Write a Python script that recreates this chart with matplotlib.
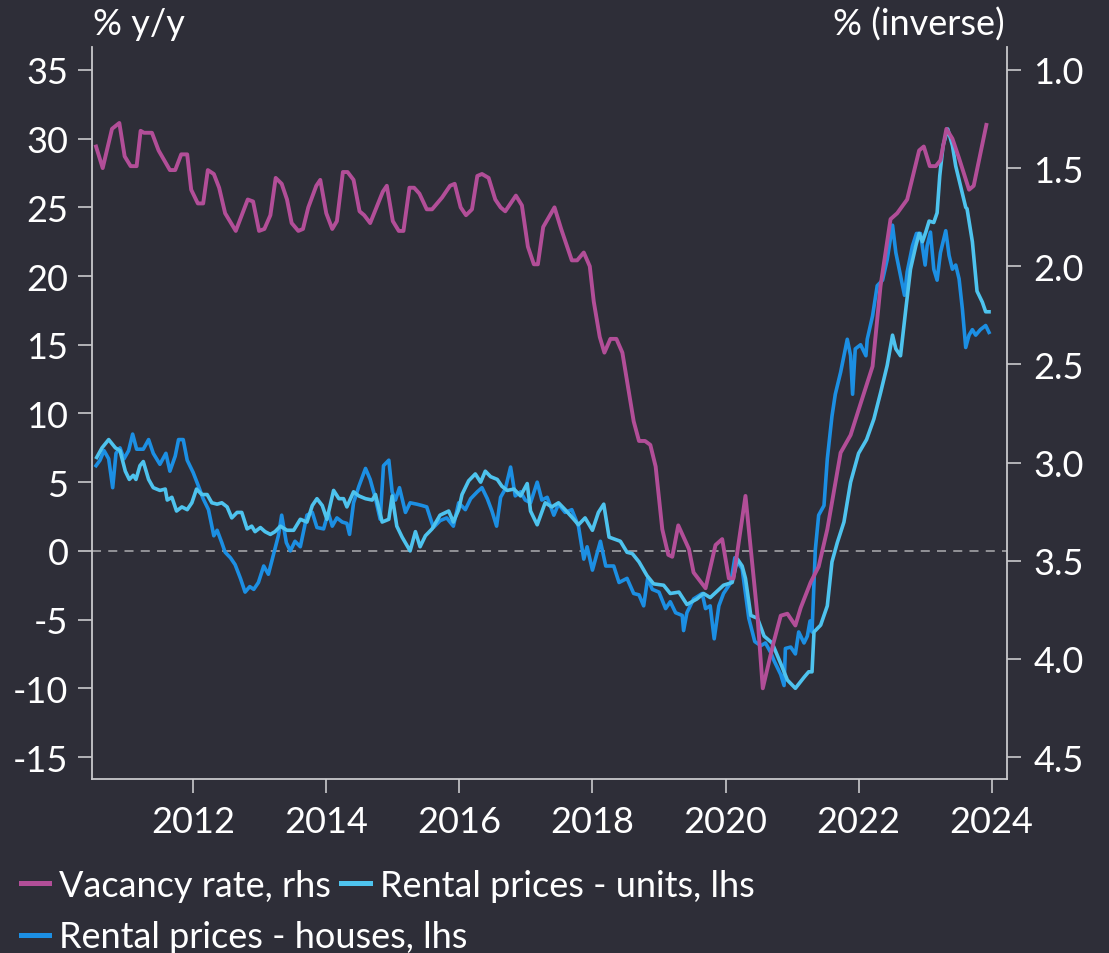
import matplotlib
matplotlib.use('Agg')
import matplotlib.pyplot as plt
from matplotlib.lines import Line2D

# ==============================
# data (decimal years)
# ==============================
vac_dates = [2010.54, 2010.64, 2010.78, 2010.89, 2010.97, 2011.06, 2011.15, 2011.21, 2011.26, 2011.38,
             2011.48, 2011.65, 2011.73, 2011.82, 2011.91, 2011.97, 2012.07, 2012.15, 2012.22, 2012.31,
             2012.39, 2012.48, 2012.64, 2012.82, 2012.90, 2012.99, 2013.07, 2013.16, 2013.24, 2013.33,
             2013.41, 2013.48, 2013.58, 2013.65, 2013.73, 2013.85, 2013.91, 2014.00, 2014.09, 2014.16,
             2014.25, 2014.32, 2014.41, 2014.50, 2014.57, 2014.66, 2014.85, 2014.91, 2015.00, 2015.09,
             2015.16, 2015.25, 2015.32, 2015.40, 2015.51, 2015.59, 2015.74, 2015.86, 2015.93, 2016.02,
             2016.10, 2016.19, 2016.27, 2016.34, 2016.44, 2016.54, 2016.62, 2016.69, 2016.77, 2016.85,
             2016.94, 2017.03, 2017.12, 2017.18, 2017.26, 2017.43, 2017.53, 2017.69, 2017.77, 2017.87,
             2017.96, 2018.02, 2018.11, 2018.18, 2018.27, 2018.36, 2018.45, 2018.62, 2018.70, 2018.79,
             2018.87, 2018.95, 2019.05, 2019.14, 2019.20, 2019.29, 2019.45, 2019.52, 2019.70, 2019.85,
             2019.95, 2020.05, 2020.12, 2020.30, 2020.48, 2020.56, 2020.72, 2020.83, 2020.93, 2021.05,
             2021.13, 2021.28, 2021.40, 2021.53, 2021.73, 2021.88, 2022.03, 2022.21, 2022.33, 2022.48,
             2022.58, 2022.73, 2022.91, 2022.98, 2023.07, 2023.16, 2023.23, 2023.32, 2023.41, 2023.51,
             2023.66, 2023.73, 2023.92]
vac_rate = [1.39, 1.50, 1.30, 1.27, 1.44, 1.49, 1.49, 1.31, 1.32, 1.32,
            1.41, 1.51, 1.51, 1.43, 1.43, 1.61, 1.68, 1.68, 1.51, 1.53,
            1.60, 1.73, 1.82, 1.66, 1.67, 1.82, 1.81, 1.74, 1.55, 1.58,
            1.66, 1.78, 1.82, 1.81, 1.70, 1.59, 1.56, 1.73, 1.81, 1.77,
            1.52, 1.52, 1.56, 1.72, 1.74, 1.78, 1.62, 1.59, 1.77, 1.82,
            1.82, 1.60, 1.60, 1.63, 1.71, 1.71, 1.65, 1.59, 1.58, 1.70,
            1.74, 1.71, 1.54, 1.53, 1.55, 1.66, 1.70, 1.72, 1.68, 1.64,
            1.69, 1.90, 1.99, 1.99, 1.80, 1.70, 1.81, 1.97, 1.97, 1.93,
            2.00, 2.18, 2.36, 2.44, 2.37, 2.37, 2.44, 2.79, 2.89, 2.89,
            2.91, 3.02, 3.34, 3.47, 3.48, 3.32, 3.44, 3.56, 3.64, 3.42,
            3.39, 3.59, 3.59, 3.17, 3.78, 4.15, 3.92, 3.78, 3.77, 3.83,
            3.74, 3.61, 3.53, 3.34, 2.95, 2.86, 2.70, 2.51, 2.10, 1.76,
            1.73, 1.66, 1.41, 1.39, 1.49, 1.49, 1.46, 1.30, 1.35, 1.45,
            1.61, 1.59, 1.28]

units_dates = [2010.55, 2010.63, 2010.73, 2010.83, 2010.90, 2010.98, 2011.04, 2011.10, 2011.14, 2011.20,
               2011.25, 2011.33, 2011.40, 2011.50, 2011.58, 2011.61, 2011.68, 2011.75, 2011.83, 2011.91,
               2011.98, 2012.05, 2012.13, 2012.21, 2012.28, 2012.36, 2012.43, 2012.51, 2012.58, 2012.66,
               2012.73, 2012.81, 2012.88, 2012.93, 2013.01, 2013.08, 2013.16, 2013.23, 2013.31, 2013.41,
               2013.51, 2013.61, 2013.71, 2013.79, 2013.86, 2013.94, 2014.01, 2014.11, 2014.19, 2014.26,
               2014.31, 2014.41, 2014.49, 2014.59, 2014.69, 2014.74, 2014.84, 2014.94, 2014.99, 2015.06,
               2015.14, 2015.26, 2015.34, 2015.41, 2015.49, 2015.59, 2015.71, 2015.84, 2015.91, 2015.99,
               2016.04, 2016.14, 2016.24, 2016.32, 2016.39, 2016.47, 2016.57, 2016.64, 2016.72, 2016.82,
               2016.92, 2017.02, 2017.07, 2017.17, 2017.29, 2017.39, 2017.49, 2017.59, 2017.72, 2017.79,
               2017.89, 2018.00, 2018.09, 2018.17, 2018.25, 2018.42, 2018.52, 2018.60, 2018.70, 2018.82,
               2018.92, 2019.07, 2019.17, 2019.30, 2019.42, 2019.57, 2019.67, 2019.77, 2019.88, 2019.97,
               2020.10, 2020.18, 2020.25, 2020.30, 2020.38, 2020.48, 2020.58, 2020.70, 2020.83, 2020.93,
               2021.05, 2021.18, 2021.25, 2021.30, 2021.33, 2021.43, 2021.53, 2021.60, 2021.68, 2021.78,
               2021.88, 2022.00, 2022.12, 2022.23, 2022.33, 2022.43, 2022.51, 2022.56, 2022.63, 2022.71,
               2022.78, 2022.86, 2022.91, 2022.96, 2023.01, 2023.06, 2023.13, 2023.18, 2023.22, 2023.27,
               2023.34, 2023.41, 2023.46, 2023.53, 2023.61, 2023.63, 2023.71, 2023.78, 2023.86, 2023.91,
               2023.96]
units_yoy = [6.8, 7.5, 8.1, 7.5, 7.3, 5.8, 5.2, 5.5, 5.2, 6.2,
             6.5, 5.2, 4.6, 4.4, 4.5, 3.7, 3.9, 2.9, 3.2, 3.0,
             3.5, 4.5, 4.1, 4.1, 3.5, 3.4, 3.5, 3.2, 2.4, 2.8,
             2.8, 1.6, 1.8, 1.4, 1.7, 1.4, 1.2, 1.4, 1.8, 1.5,
             1.5, 2.3, 2.1, 3.3, 3.8, 3.3, 2.3, 4.4, 3.8, 3.8,
             3.2, 4.3, 4.0, 3.8, 3.7, 4.1, 2.1, 2.3, 4.0, 1.8,
             1.0, 0.0, 1.4, 0.3, 1.1, 1.6, 2.6, 2.9, 2.1, 3.0,
             4.1, 5.1, 5.6, 5.0, 5.8, 5.4, 5.2, 4.7, 4.4, 4.5,
             4.0, 4.9, 2.9, 1.9, 3.5, 3.2, 3.5, 3.0, 2.3, 1.9,
             2.4, 1.5, 2.8, 3.4, 1.0, 0.7, -0.1, -0.2, -0.8, -1.8,
             -2.4, -2.5, -3.1, -3.0, -3.9, -3.5, -3.1, -3.4, -2.9, -2.5,
             -2.3, -0.6, -1.1, -2.0, -4.7, -4.9, -6.2, -6.7, -8.2, -9.4,
             -10.0, -9.2, -8.8, -8.8, -5.9, -5.4, -4.0, -0.8, 0.6, 2.1,
             5.0, 7.1, 8.1, 9.6, 11.5, 13.5, 15.7, 14.7, 14.2, 17.6,
             20.5, 22.2, 23.1, 22.5, 23.2, 24.0, 23.9, 24.6, 27.3, 29.5,
             30.7, 29.5, 28.0, 26.6, 25.0, 24.9, 22.5, 18.9, 18.1, 17.4,
             17.4]

houses_dates = [2010.54, 2010.60, 2010.66, 2010.73, 2010.79, 2010.84, 2010.90, 2010.96, 2011.03, 2011.09,
                2011.15, 2011.25, 2011.33, 2011.40, 2011.50, 2011.59, 2011.65, 2011.73, 2011.78, 2011.85,
                2011.91, 2012.00, 2012.08, 2012.15, 2012.23, 2012.31, 2012.36, 2012.43, 2012.48, 2012.56,
                2012.63, 2012.71, 2012.78, 2012.85, 2012.91, 2012.98, 2013.06, 2013.13, 2013.20, 2013.28,
                2013.33, 2013.40, 2013.46, 2013.53, 2013.61, 2013.71, 2013.79, 2013.86, 2013.96, 2014.03,
                2014.09, 2014.16, 2014.24, 2014.31, 2014.35, 2014.41, 2014.49, 2014.59, 2014.66, 2014.74,
                2014.81, 2014.86, 2014.94, 2014.99, 2015.04, 2015.10, 2015.19, 2015.26, 2015.36, 2015.44,
                2015.51, 2015.61, 2015.71, 2015.81, 2015.91, 2015.99, 2016.09, 2016.17, 2016.27, 2016.34,
                2016.42, 2016.49, 2016.56, 2016.62, 2016.69, 2016.77, 2016.84, 2016.92, 2016.99, 2017.07,
                2017.17, 2017.24, 2017.32, 2017.42, 2017.49, 2017.59, 2017.69, 2017.79, 2017.87, 2017.92,
                2018.00, 2018.12, 2018.20, 2018.32, 2018.40, 2018.52, 2018.62, 2018.70, 2018.77, 2018.83,
                2018.90, 2019.00, 2019.10, 2019.17, 2019.25, 2019.35, 2019.37, 2019.42, 2019.52, 2019.65,
                2019.70, 2019.77, 2019.83, 2019.90, 2019.97, 2020.08, 2020.14, 2020.25, 2020.35, 2020.44,
                2020.53, 2020.60, 2020.68, 2020.73, 2020.83, 2020.88, 2020.90, 2020.98, 2021.05, 2021.10,
                2021.18, 2021.23, 2021.27, 2021.30, 2021.35, 2021.40, 2021.48, 2021.53, 2021.60, 2021.65,
                2021.73, 2021.83, 2021.88, 2021.91, 2021.95, 2022.03, 2022.11, 2022.13, 2022.21, 2022.28,
                2022.36, 2022.43, 2022.51, 2022.56, 2022.61, 2022.66, 2022.69, 2022.73, 2022.81, 2022.87,
                2022.93, 2023.00, 2023.03, 2023.08, 2023.13, 2023.18, 2023.23, 2023.31, 2023.36, 2023.41,
                2023.46, 2023.51, 2023.56, 2023.61, 2023.66, 2023.71, 2023.76, 2023.83, 2023.91, 2023.96]
houses_yoy = [6.2, 6.6, 7.3, 6.7, 4.6, 7.1, 7.5, 6.7, 7.3, 8.5,
              7.4, 7.4, 8.1, 7.1, 6.3, 7.1, 5.8, 6.9, 8.1, 8.1,
              6.6, 5.7, 4.7, 3.8, 3.0, 1.1, 1.5, 0.6, -0.1, -0.5,
              -1.0, -2.0, -3.0, -2.6, -2.8, -2.3, -1.1, -1.7, -0.4, 1.1,
              2.6, 0.6, 0.0, 0.7, 0.3, 2.6, 2.8, 1.7, 1.6, 2.8,
              1.8, 2.4, 2.1, 2.0, 1.2, 3.5, 4.7, 6.0, 5.2, 3.8,
              2.3, 6.2, 6.6, 4.3, 3.7, 4.6, 2.8, 3.5, 3.4, 3.3,
              3.2, 1.7, 2.2, 2.4, 1.8, 3.5, 3.0, 3.8, 4.3, 4.6,
              3.8, 2.9, 1.8, 3.9, 4.5, 6.1, 4.0, 4.3, 3.7, 3.5,
              5.0, 3.7, 3.9, 2.6, 3.4, 2.8, 3.0, 1.8, -0.6, 0.3,
              -1.4, 0.7, -1.1, -1.1, -2.3, -2.0, -3.1, -3.2, -4.0, -2.0,
              -2.8, -3.0, -4.2, -3.7, -4.5, -4.7, -5.8, -4.5, -3.5, -3.1,
              -4.2, -4.0, -6.4, -4.0, -3.1, -2.3, -0.5, -1.3, -4.9, -6.6,
              -6.9, -6.7, -7.4, -8.0, -9.0, -9.8, -7.1, -7.0, -7.5, -5.9,
              -6.7, -6.2, -5.1, -5.9, 0.1, 2.6, 3.3, 6.7, 9.8, 11.4,
              13.0, 15.4, 14.2, 11.4, 14.7, 15.0, 14.2, 15.4, 17.1, 19.3,
              19.7, 21.2, 23.7, 21.7, 20.5, 19.3, 18.6, 20.3, 22.2, 23.1,
              23.1, 20.8, 22.2, 23.2, 20.5, 19.7, 21.7, 23.3, 21.5, 20.5,
              20.8, 19.8, 17.6, 14.8, 15.7, 16.1, 15.7, 16.1, 16.4, 15.9]

x_ticks = [2012, 2014, 2016, 2018, 2020, 2022, 2024]
lhs_ticks = [-15, -10, -5, 0, 5, 10, 15, 20, 25, 30, 35]
rhs_ticks = [1.0, 1.5, 2.0, 2.5, 3.0, 3.5, 4.0, 4.5]

# ==============================
# style
# ==============================
BG = '#2e2e38'
TXT = '#ffffff'
SPINE = '#c9c9cc'
C_VAC = '#b24e98'
C_UNITS = '#4ec3ee'
C_HOUSES = '#1c8fe3'
FS = 26

plt.rcParams['font.family'] = ['Lato', 'DejaVu Sans']
plt.rcParams['axes.unicode_minus'] = False

fig = plt.figure(figsize=(11.09, 9.54), dpi=100)
fig.patch.set_facecolor(BG)
ax = fig.add_axes([0.083, 0.1824, 0.825, 0.7673])
ax.set_facecolor(BG)
ax2 = ax.twinx()
ax2.patch.set_visible(False)

ax.axhline(0, color='#9a9a9e', lw=1.3, ls=(0, (5, 4)), zorder=1)
ax.plot(houses_dates, houses_yoy, color=C_HOUSES, lw=2.6, zorder=2)
ax.plot(units_dates, units_yoy, color=C_UNITS, lw=2.6, zorder=3)
ax2.plot(vac_dates, vac_rate, color=C_VAC, lw=2.8, zorder=4)

ax.set_xlim(2010.48, 2024.23)
ax.set_ylim(-16.6, 36.67)
ax2.set_ylim(4.612, 0.883)

ax.set_xticks(x_ticks)
ax.set_yticks(lhs_ticks)
ax2.set_yticks(rhs_ticks)
ax2.set_yticklabels(['%.1f' % v for v in rhs_ticks])

for a in (ax, ax2):
    for s in a.spines.values():
        s.set_visible(False)
    a.tick_params(colors=SPINE, labelcolor=TXT, labelsize=FS, length=10, width=1.2)
ax.spines['left'].set_visible(True)
ax.spines['bottom'].set_visible(True)
ax2.spines['right'].set_visible(True)
for s in (ax.spines['left'], ax.spines['bottom'], ax2.spines['right']):
    s.set_color(SPINE)
    s.set_linewidth(1.3)
ax.tick_params(axis='y', pad=7)
ax.tick_params(axis='x', pad=9)
ax2.tick_params(axis='y', pad=9)

fig.text(0.084, 0.974, '% y/y', color=TXT, fontsize=FS, ha='left', va='center')
fig.text(0.906, 0.974, '% (inverse)', color=TXT, fontsize=FS, ha='right', va='center')

# legend: two rows
h_vac = Line2D([], [], color=C_VAC, lw=3.6)
h_units = Line2D([], [], color=C_UNITS, lw=3.6)
h_houses = Line2D([], [], color=C_HOUSES, lw=3.6)
leg_kw = dict(frameon=False, fontsize=FS, handlelength=0.78, handletextpad=0.28,
              columnspacing=0.28, labelcolor=TXT, borderaxespad=0, borderpad=0)
fig.legend([h_vac, h_units], ['Vacancy rate, rhs', 'Rental prices - units, lhs'],
           ncol=2, loc='center left', bbox_to_anchor=(0.019, 0.071), **leg_kw)
fig.legend([h_houses], ['Rental prices - houses, lhs'],
           loc='center left', bbox_to_anchor=(0.019, 0.017), **leg_kw)

plt.savefig('out.png', dpi=100, facecolor=BG)
